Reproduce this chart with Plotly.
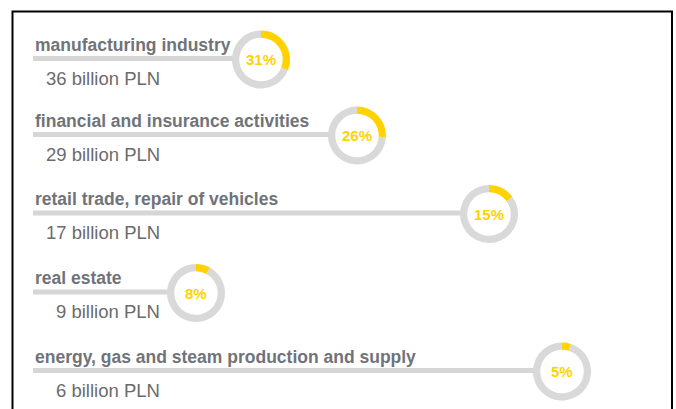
import plotly.graph_objects as go

# Sector contribution data
sectors = [
    "manufacturing industry",
    "financial and insurance activities",
    "retail trade, repair of vehicles",
    "real estate",
    "energy, gas and steam production and supply",
]
value_bn = [36, 29, 17, 9, 6]
share_pct = [31, 26, 15, 8, 5]

# Layout of each row (pixel coordinates of the canvas)
W, H = 676, 409
row_y = [58.5, 134.5, 213, 292, 370.5]
ring_x = [261, 357, 489, 196, 562]
ring_r = 29
line_x0 = 33

YELLOW = "#ffd200"
RING_GREY = "#d9d9d9"
LINE_GREY = "#d6d6d6"
LABEL_GREY = "#707379"
VALUE_GREY = "#6b6b6b"
FONT = "Liberation Sans, Arial, sans-serif"

fig = go.Figure()
annotations = []

for name, val, pct, y, cx in zip(sectors, value_bn, share_pct, row_y, ring_x):
    cy = y + 1
    # leader line running under the label up to the ring
    fig.add_trace(go.Scatter(
        x=[line_x0, cx - ring_r + 1], y=[y, y], mode="lines",
        line=dict(color=LINE_GREY, width=5),
        hoverinfo="skip", showlegend=False,
    ))
    # ring showing the share
    fig.add_trace(go.Pie(
        values=[pct, 100 - pct],
        marker=dict(colors=[YELLOW, RING_GREY], line=dict(width=0)),
        hole=0.75, sort=False, direction="clockwise", rotation=0,
        textinfo="none", hoverinfo="skip", showlegend=False,
        domain=dict(
            x=[(cx - ring_r) / W, (cx + ring_r) / W],
            y=[1 - (cy + ring_r) / H, 1 - (cy - ring_r) / H],
        ),
    ))
    annotations.append(dict(
        x=cx, y=cy, xref="x", yref="y", text=f"<b>{pct}%</b>", showarrow=False,
        font=dict(family=FONT, size=15, color=YELLOW),
        xanchor="center", yanchor="middle",
    ))
    annotations.append(dict(
        x=33, y=y - 14, xref="x", yref="y", text=f"<b>{name}</b>", showarrow=False,
        font=dict(family=FONT, size=17.5, color=LABEL_GREY),
        xanchor="left", yanchor="middle",
    ))
    annotations.append(dict(
        x=162, y=y + 19.5, xref="x", yref="y", text=f"{val} billion PLN", showarrow=False,
        font=dict(family=FONT, size=18.5, color=VALUE_GREY),
        xanchor="right", yanchor="middle",
    ))

fig.update_layout(
    width=W, height=H,
    margin=dict(l=0, r=0, t=0, b=0),
    paper_bgcolor="white", plot_bgcolor="white",
    xaxis=dict(range=[0, W], visible=False, fixedrange=True),
    yaxis=dict(range=[H, 0], visible=False, fixedrange=True),
    annotations=annotations,
    shapes=[dict(
        type="rect", xref="x", yref="y", x0=12.5, x1=672, y0=11.5, y1=420,
        line=dict(color="black", width=2), layer="below",
    )],
)

fig.write_html("out.html")
